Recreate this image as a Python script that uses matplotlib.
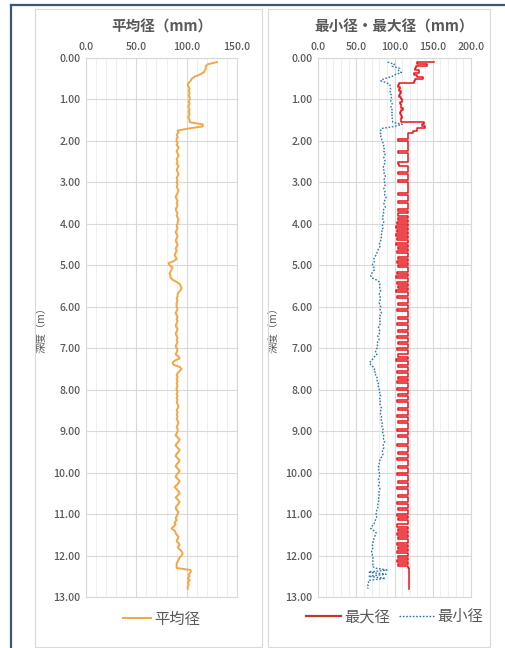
import matplotlib
matplotlib.use('Agg')
import matplotlib.pyplot as plt
from matplotlib.patches import Rectangle
from matplotlib.lines import Line2D
import numpy as np

plt.rcParams['font.family'] = ['Noto Sans CJK JP', 'DejaVu Sans']

# depth sampling: 0.10 m to 12.80 m every 0.05 m
depth_start = 0.10
depth_step = 0.05

# 平均径 (mm)
mean_dia = [
    130, 121, 119, 119, 118, 117, 113, 108, 105, 104, 102, 101, 102, 103, 102, 103, 102, 103,  # 0.10-0.95
    103, 102, 103, 102, 102, 103, 102, 103, 102, 102, 103, 103, 116, 116, 102, 91, 92, 90, 91, 90,  # 1
    90, 91, 90, 92, 91, 90, 91, 92, 91, 90, 91, 90, 92, 91, 90, 91, 92, 91, 90, 91,  # 2
    90, 91, 90, 91, 92, 91, 90, 89, 90, 91, 90, 91, 90, 89, 90, 91, 90, 91, 92, 91,  # 3
    91, 90, 91, 90, 89, 90, 91, 90, 89, 90, 91, 90, 89, 90, 89, 88, 89, 90, 87, 82,  # 4
    83, 86, 85, 84, 83, 84, 84, 86, 90, 93, 94, 95, 94, 92, 91, 91, 90, 91, 90, 90,  # 5
    90, 91, 90, 89, 90, 91, 90, 91, 90, 89, 90, 91, 90, 89, 90, 91, 90, 91, 90, 89,  # 6
    90, 91, 90, 89, 92, 93, 88, 86, 87, 93, 95, 93, 91, 90, 91, 90, 91, 90, 91, 90,  # 7
    90, 91, 90, 91, 90, 91, 90, 91, 92, 91, 90, 91, 90, 91, 90, 91, 92, 91, 90, 91,  # 8
    91, 90, 89, 91, 93, 92, 90, 89, 91, 93, 92, 90, 89, 91, 93, 92, 90, 89, 91, 93,  # 9
    92, 90, 89, 91, 93, 92, 90, 88, 90, 92, 93, 91, 89, 91, 93, 92, 90, 89, 90, 92,  # 10
    91, 90, 89, 90, 88, 89, 87, 85, 88, 89, 90, 92, 91, 90, 92, 93, 91, 93, 95, 96,  # 11
    95, 93, 92, 91, 90, 90, 90, 104, 104, 102, 103, 101, 103, 101, 102, 101, 101,  # 12.00-12.80
]

# 最大径 (mm)
max_dia = [
    152, 130, 142, 128, 127, 132, 126, 129, 137, 127, 126, 106, 105, 107, 106, 108, 107, 106,
    108, 110, 107, 109, 108, 111, 108, 107, 109, 110, 108, 109, 138, 136, 140, 130, 124, 118, 117, 117,
    104, 117, 117, 118, 117, 117, 105, 117, 117, 118, 117, 104, 106, 117, 118, 117, 105, 117, 117, 117,
    104, 117, 118, 117, 117, 117, 105, 117, 118, 117, 104, 117, 117, 118, 105, 117, 104, 118, 105, 117,
    103, 118, 102, 118, 103, 117, 102, 118, 103, 118, 102, 117, 104, 118, 103, 117, 118, 104, 117, 103,
    117, 104, 118, 117, 103, 117, 102, 118, 117, 103, 118, 104, 117, 102, 118, 117, 103, 118, 117, 104,
    117, 118, 103, 117, 118, 117, 104, 117, 118, 103, 117, 117, 104, 118, 117, 103, 118, 117, 104, 117,
    118, 103, 117, 118, 104, 117, 102, 118, 117, 104, 118, 117, 103, 117, 118, 104, 117, 103, 118, 117,
    103, 117, 118, 104, 117, 118, 103, 117, 118, 117, 104, 117, 118, 103, 117, 117, 104, 118, 117, 117,
    103, 117, 117, 104, 118, 117, 117, 103, 117, 118, 117, 104, 117, 117, 103, 118, 117, 117, 104, 117,
    117, 103, 117, 118, 117, 104, 117, 117, 103, 117, 118, 117, 104, 117, 117, 103, 118, 117, 104, 117,
    117, 103, 117, 104, 118, 117, 103, 117, 104, 117, 103, 118, 104, 117, 117, 103, 118, 104, 117, 103,
    117, 104, 118, 103, 117, 104, 118, 119, 119, 119, 119, 119, 119, 119, 119, 119, 119,
]

# 最小径 (mm)
min_dia = [
    91, 100, 97, 107, 105, 109, 101, 96, 86, 82, 90, 94, 94, 95, 94, 96, 95, 96,
    96, 95, 97, 96, 95, 97, 96, 98, 96, 97, 97, 98, 110, 100, 83, 82, 81, 83, 82, 83,
    84, 85, 86, 85, 87, 86, 88, 87, 86, 87, 88, 87, 86, 85, 86, 87, 86, 88, 87, 86,
    87, 88, 87, 86, 87, 88, 87, 89, 88, 87, 86, 87, 88, 86, 85, 86, 85, 84, 85, 86,
    85, 84, 85, 83, 84, 83, 82, 83, 82, 81, 80, 81, 79, 78, 77, 76, 74, 73, 74, 72,
    71, 73, 74, 72, 70, 69, 70, 76, 80, 81, 80, 81, 82, 81, 80, 81, 82, 81, 80, 81,
    82, 81, 82, 83, 81, 82, 80, 81, 82, 80, 79, 80, 81, 80, 78, 79, 80, 78, 77, 78,
    77, 76, 75, 77, 74, 72, 70, 67, 69, 72, 74, 73, 76, 75, 77, 78, 77, 79, 78, 80,
    80, 81, 80, 82, 81, 80, 82, 81, 82, 83, 82, 81, 82, 83, 82, 83, 84, 83, 84, 85,
    84, 85, 86, 85, 86, 87, 86, 85, 86, 85, 84, 85, 84, 82, 81, 80, 80, 79, 80, 79,
    80, 81, 80, 79, 80, 80, 79, 80, 81, 80, 79, 80, 79, 80, 79, 78, 79, 78, 77, 76,
    76, 77, 76, 75, 74, 73, 70, 69, 73, 76, 75, 74, 73, 72, 72, 71, 72, 71, 70, 71,
    71, 72, 71, 72, 72, 71, 74, 90, 66, 89, 66, 88, 66, 66, 65, 66, 65,
]

assert len(mean_dia) == len(max_dia) == len(min_dia), (len(mean_dia), len(max_dia), len(min_dia))
depth = depth_start + depth_step * np.arange(len(mean_dia))

y_ticks = np.arange(0, 14)
txt = '#595959'
grid_major = '#D9D9D9'
grid_minor = '#EFEFEF'

fig = plt.figure(figsize=(5.05, 6.48), dpi=100)

# outer frame and panel boxes
fig.add_artist(Line2D([11/505, 11/505], [0, 1 - 5/648], transform=fig.transFigure, color='#3E5674', lw=1.6))
fig.add_artist(Line2D([11/505, 1], [1 - 5/648, 1 - 5/648], transform=fig.transFigure, color='#3E5674', lw=1.6))
for x0, w in [(35/505, 227/505), (268/505, 222/505)]:
    fig.add_artist(Rectangle((x0, 1/648), w, 638/648, transform=fig.transFigure,
                             fill=False, edgecolor='#D9D9D9', lw=0.8))


def style_axis(ax, xmax, title):
    ax.set_xlim(0, xmax)
    ax.set_ylim(13, 0)
    ax.xaxis.tick_top()
    ax.set_xticks(np.arange(0, xmax + 1, 50))
    ax.set_xticklabels([f'{v:.1f}' for v in np.arange(0, xmax + 1, 50)])
    ax.set_xticks(np.arange(0, xmax + 1, 10), minor=True)
    ax.set_yticks(y_ticks)
    ax.set_yticklabels([f'{v:.2f}' for v in y_ticks])
    ax.tick_params(axis='both', which='both', length=0, labelsize=7.6, colors=txt, pad=4)
    for lab in ax.get_xticklabels() + ax.get_yticklabels():
        lab.set_fontweight('medium')
    ax.grid(True, which='major', color=grid_major, lw=0.8)
    ax.grid(True, which='minor', axis='x', color=grid_minor, lw=0.7)
    ax.set_axisbelow(True)
    for s in ax.spines.values():
        s.set_color(grid_major)
        s.set_linewidth(0.8)
    ax.set_title(title, color=txt, fontsize=10.5, fontweight='bold', pad=19)
    ax.set_ylabel('深度（m）', color=txt, fontsize=7.5, labelpad=5)


ax1 = fig.add_axes([86/505, 1 - 597/648, 151/505, 539/648])
ax1.plot(mean_dia, depth, color='#F0A848', lw=1.4, label='平均径')
style_axis(ax1, 150, '平均径（mm）')
ax1.legend(loc='upper center', bbox_to_anchor=(0.5, 0.0), frameon=False, fontsize=11,
           labelcolor=txt, handlelength=1.8, handletextpad=0.2)

ax2 = fig.add_axes([318/505, 1 - 597/648, 153/505, 539/648])
ax2.plot(max_dia, depth, color='#E8141B', lw=1.1, drawstyle='steps-post', label='最大径')
ax2.plot(min_dia, depth, color='#2E75B6', lw=1.0, ls=(0, (1.2, 1.2)), label='最小径')
style_axis(ax2, 200, '最小径・最大径（mm）')
leg = ax2.legend(loc='upper center', bbox_to_anchor=(0.5, 0.005), frameon=False, fontsize=11,
                 labelcolor=txt, ncol=2, handlelength=2.3, handletextpad=0.2, columnspacing=0.6)
leg.get_lines()[0].set_color('#C0392B')
leg.get_lines()[0].set_linewidth(1.6)

fig.savefig('out.png', dpi=100)
